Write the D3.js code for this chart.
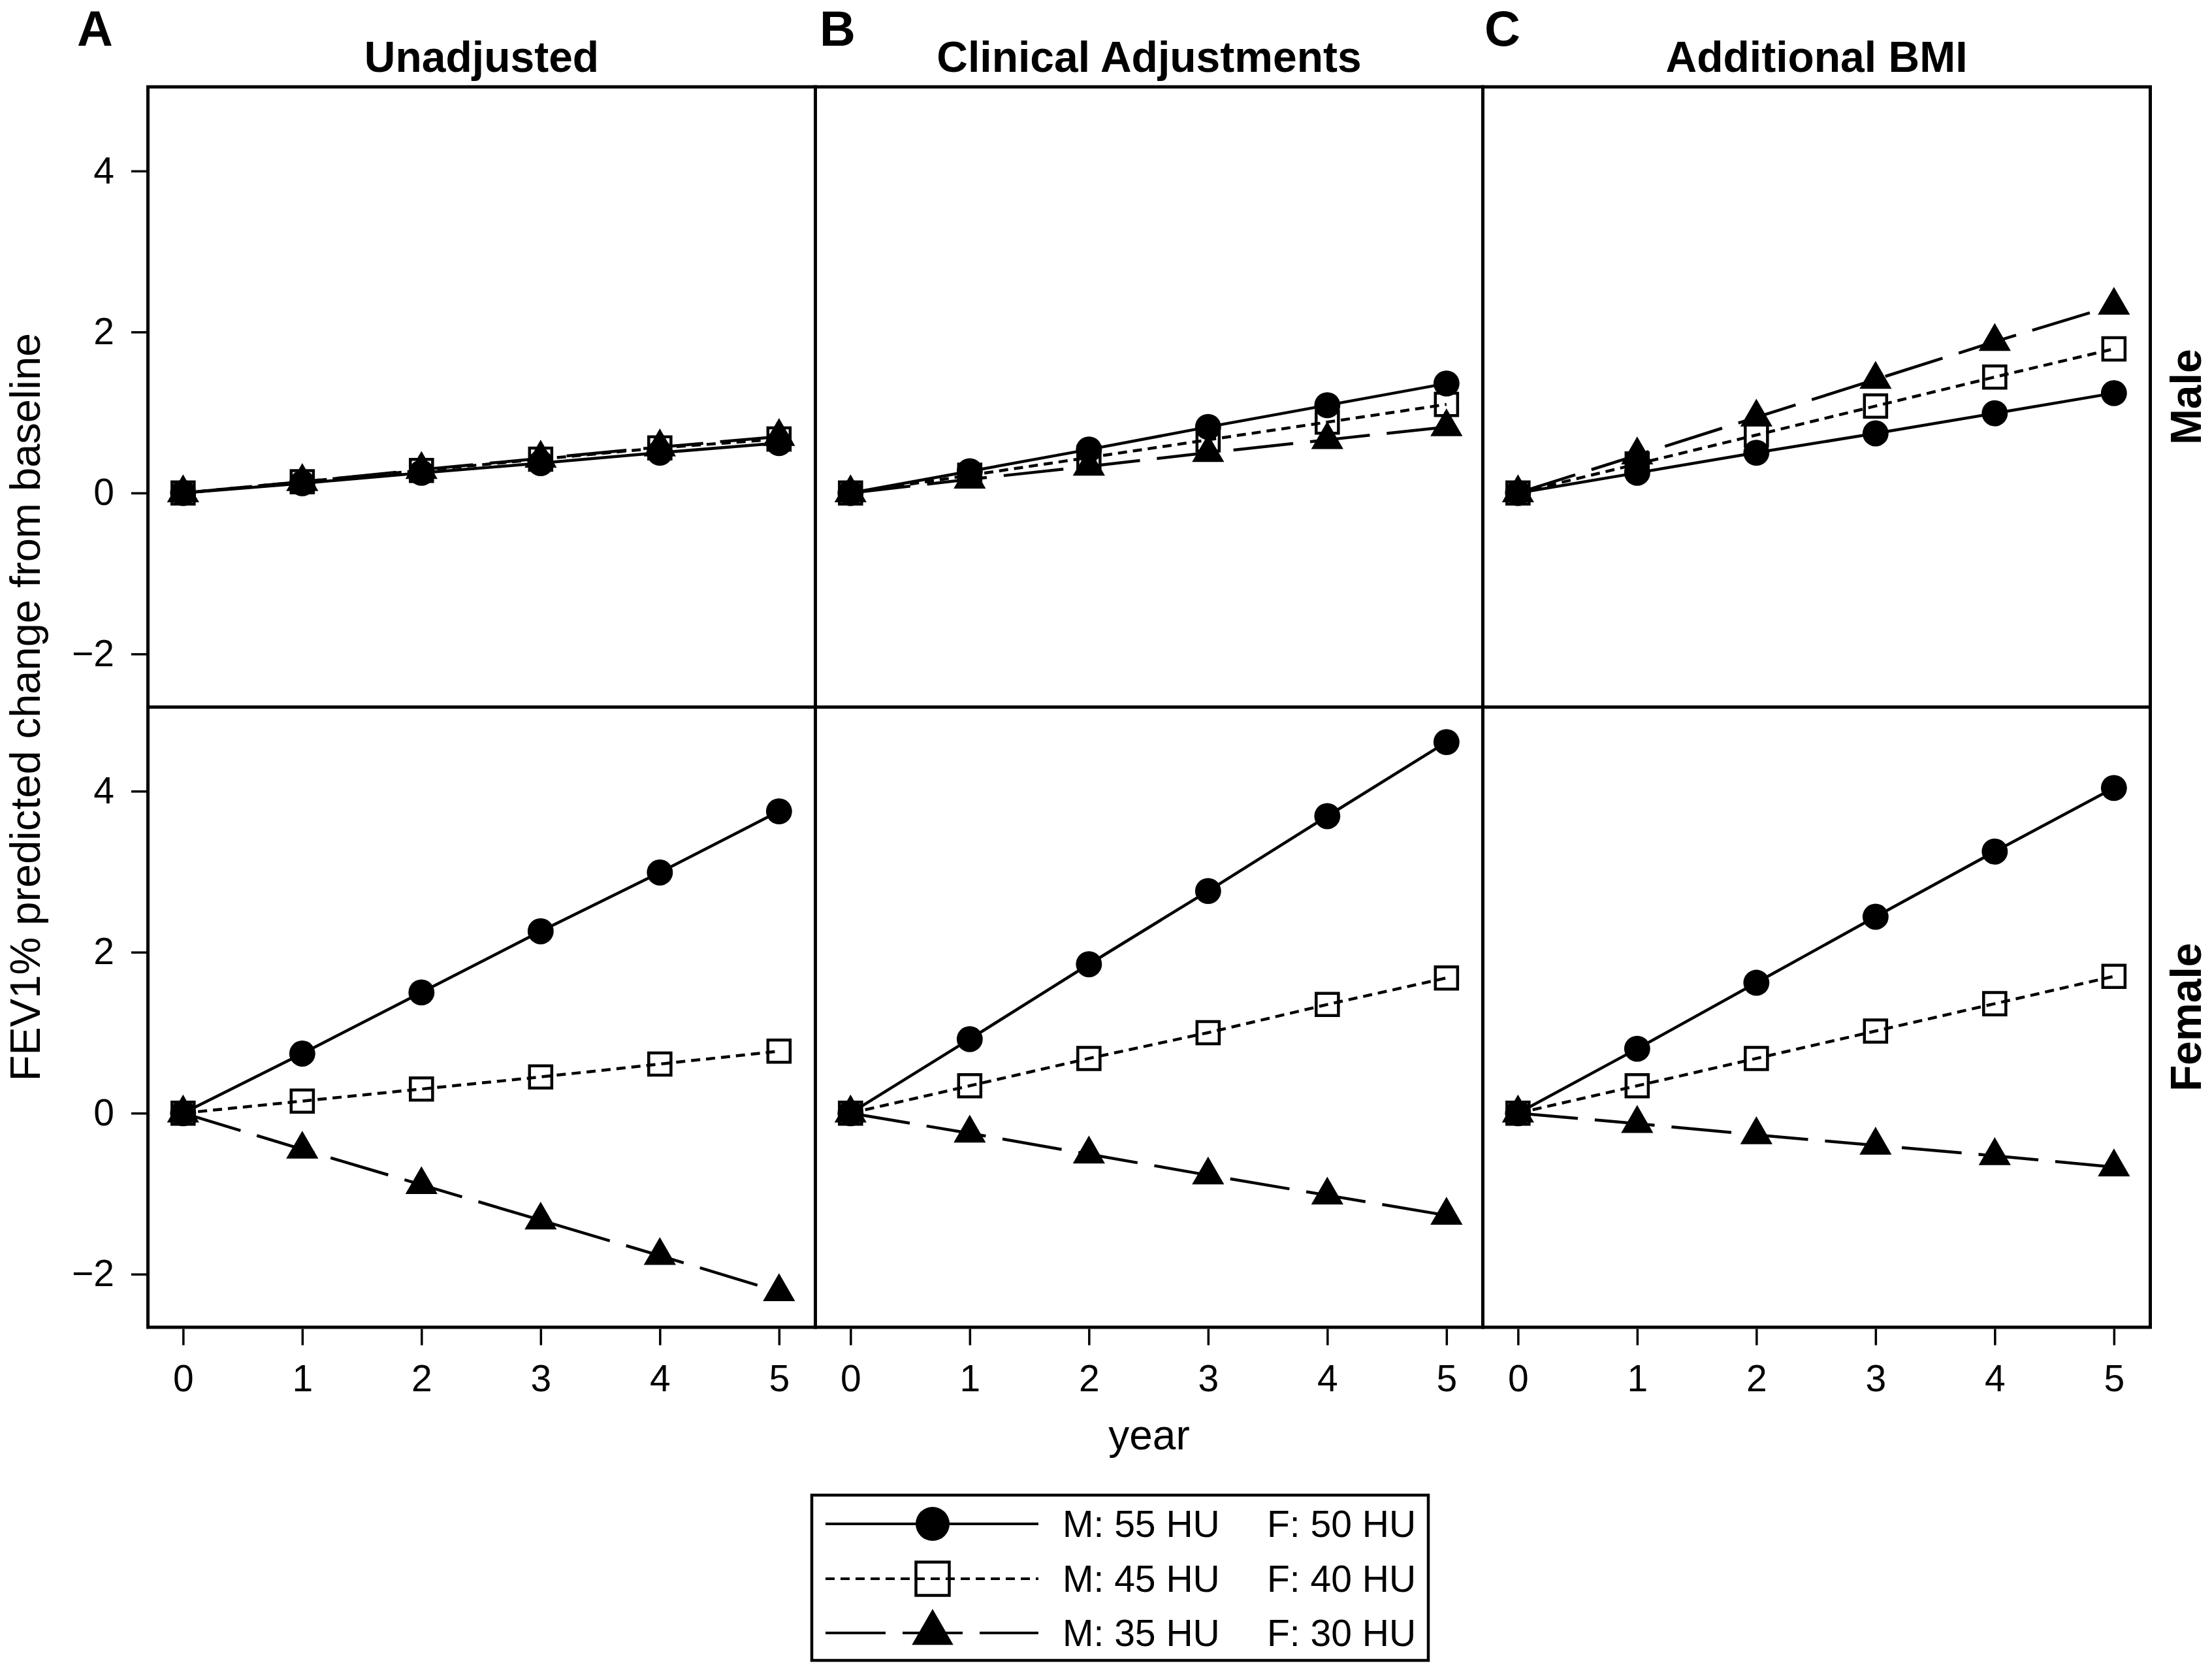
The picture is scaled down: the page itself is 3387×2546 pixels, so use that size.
<!DOCTYPE html>
<html>
<head>
<meta charset="utf-8">
<script src="https://d3js.org/d3.v7.min.js"></script>
<style>
  html, body { margin: 0; padding: 0; background: #fff; }
  svg { display: block; }
  text { font-family: "Liberation Sans", Arial, Helvetica, sans-serif; fill: #000; }
</style>
</head>
<body>
<script>
// ---------------- DATA ----------------
const years = [0, 1, 2, 3, 4, 5];
const panelTitles = ["Unadjusted", "Clinical Adjustments", "Additional BMI"];
const panelLetters = ["A", "B", "C"];
const sexLabels = ["Male", "Female"];
const yTicks = [-2, 0, 2, 4];
const xTicks = [0, 1, 2, 3, 4, 5];
const legendMale = ["M: 55 HU", "M: 45 HU", "M: 35 HU"];
const legendFemale = ["F: 50 HU", "F: 40 HU", "F: 30 HU"];

// each: [circle (solid), square (short dash), triangle (long dash)]
const unadjustedMale = [
  [0, 0.12, 0.25, 0.37, 0.50, 0.62],
  [0, 0.14, 0.28, 0.42, 0.56, 0.67],
  [0, 0.14, 0.29, 0.43, 0.57, 0.70]
];
const unadjustedFemale = [
  [0, 0.74, 1.50, 2.26, 2.99, 3.75],
  [0, 0.15, 0.30, 0.45, 0.61, 0.77],
  [0, -0.45, -0.89, -1.33, -1.77, -2.22]
];
const clinicalMale = [
  [0, 0.27, 0.54, 0.82, 1.09, 1.36],
  [0, 0.22, 0.44, 0.66, 0.88, 1.10],
  [0, 0.17, 0.33, 0.50, 0.66, 0.82]
];
const clinicalFemale = [
  [0, 0.92, 1.85, 2.76, 3.69, 4.61],
  [0, 0.34, 0.68, 1.00, 1.35, 1.68],
  [0, -0.25, -0.51, -0.77, -1.02, -1.27]
];
const bmiMale = [
  [0, 0.25, 0.50, 0.74, 0.99, 1.24],
  [0, 0.36, 0.72, 1.08, 1.44, 1.79],
  [0, 0.47, 0.94, 1.41, 1.88, 2.33]
];
const bmiFemale = [
  [0, 0.80, 1.62, 2.44, 3.25, 4.04],
  [0, 0.34, 0.68, 1.02, 1.36, 1.70],
  [0, -0.13, -0.27, -0.40, -0.53, -0.67]
];

// rows x columns
const panelData = [
  [unadjustedMale, clinicalMale, bmiMale],
  [unadjustedFemale, clinicalFemale, bmiFemale]
];

// ---------------- LAYOUT ----------------
const W = 3387, H = 2546;
const left = 226.5, panelW = 1022;
const top0 = 133, panelH = 949.5;
const FONT_TICK = 57, FONT_TITLE = 66, FONT_LETTER = 76, FONT_AXIS = 65;

const styles = [
  { dash: null, symbol: d3.symbolCircle, fill: "#000", size: 1250, lsize: 2124 },
  { dash: "14,9", symbol: d3.symbolSquare, fill: "none", size: 1160, lsize: 2601 },
  { dash: "92,26", symbol: d3.symbolTriangle, fill: "#000", size: 1050, lsize: 1746 }
];

const svg = d3.select("body").append("svg")
  .attr("width", W).attr("height", H)
  .attr("viewBox", `0 0 ${W} ${H}`);

svg.append("rect").attr("width", W).attr("height", H).attr("fill", "#fff");

const x = d3.scaleLinear().domain([-0.295, 5.305]).range([0, panelW]);
const y = d3.scaleLinear().domain([-2.66, 5.045]).range([panelH, 0]);

const line = d3.line()
  .x((d, i) => x(years[i]))
  .y(d => y(d));

for (let r = 0; r < 2; r++) {
  for (let c = 0; c < 3; c++) {
    const g = svg.append("g")
      .attr("transform", `translate(${left + c * panelW},${top0 + r * panelH})`);
    const groups = panelData[r][c];
    groups.forEach((vals, si) => {
      const st = styles[si];
      g.append("path")
        .attr("d", line(vals))
        .attr("fill", "none")
        .attr("stroke", "#000")
        .attr("stroke-width", 4.5)
        .attr("stroke-dasharray", st.dash);
      g.selectAll(null).data(vals).enter().append("path")
        .attr("transform", (d, i) => `translate(${x(years[i])},${y(d)})`)
        .attr("d", d3.symbol().type(st.symbol).size(st.size))
        .attr("fill", st.fill)
        .attr("stroke", "#000")
        .attr("stroke-width", si === 1 ? 4.5 : 0);
    });
    // panel border
    g.append("rect")
      .attr("x", 0).attr("y", 0)
      .attr("width", panelW).attr("height", panelH)
      .attr("fill", "none").attr("stroke", "#000").attr("stroke-width", 5);

    // y axis on first column
    if (c === 0) {
      const ay = g.append("g").attr("transform", "translate(-2.5,0)")
        .call(d3.axisLeft(y).tickValues(yTicks).tickSize(23).tickSizeOuter(0).tickPadding(26)
          .tickFormat(d => d < 0 ? "\u2212" + Math.abs(d) : String(d)));
      ay.select(".domain").remove();
      ay.selectAll(".tick line").attr("stroke", "#000").attr("stroke-width", 3.5);
      ay.selectAll(".tick text")
        .attr("font-size", FONT_TICK)
        .attr("font-family", "Liberation Sans, Arial, sans-serif")
        .attr("fill", "#000");
    }
    // x axis on bottom row
    if (r === 1) {
      const ax = g.append("g").attr("transform", `translate(0,${panelH + 2.5})`)
        .call(d3.axisBottom(x).tickValues(xTicks).tickSize(25).tickSizeOuter(0).tickPadding(30)
          .tickFormat(d3.format("d")));
      ax.select(".domain").remove();
      ax.selectAll(".tick line").attr("stroke", "#000").attr("stroke-width", 3.5);
      ax.selectAll(".tick text")
        .attr("font-size", FONT_TICK)
        .attr("font-family", "Liberation Sans, Arial, sans-serif")
        .attr("fill", "#000");
    }
  }
}

// column titles and letters
const letterX = [118, 1255, 2273];
panelTitles.forEach((t, c) => {
  svg.append("text")
    .attr("x", left + c * panelW + panelW / 2)
    .attr("y", 110)
    .attr("text-anchor", "middle")
    .attr("font-weight", "bold")
    .attr("font-size", FONT_TITLE)
    .text(t);
  svg.append("text")
    .attr("x", letterX[c])
    .attr("y", 70)
    .attr("font-weight", "bold")
    .attr("font-size", FONT_LETTER)
    .text(panelLetters[c]);
});

// row strip labels (right side)
sexLabels.forEach((t, r) => {
  const cy = top0 + r * panelH + panelH / 2;
  svg.append("text")
    .attr("transform", `translate(3370,${cy}) rotate(-90)`)
    .attr("text-anchor", "middle")
    .attr("font-weight", "bold")
    .attr("font-size", FONT_TITLE)
    .text(t);
});

// axis titles
svg.append("text")
  .attr("transform", `translate(61,${top0 + panelH}) rotate(-90)`)
  .attr("text-anchor", "middle")
  .attr("font-size", FONT_AXIS)
  .text("FEV1% predicted change from baseline");

svg.append("text")
  .attr("x", left + 1.5 * panelW)
  .attr("y", 2219)
  .attr("text-anchor", "middle")
  .attr("font-size", 64)
  .text("year");

// legend
const lg = svg.append("g");
lg.append("rect")
  .attr("x", 1243).attr("y", 2289).attr("width", 944).attr("height", 253)
  .attr("fill", "#fff").attr("stroke", "#000").attr("stroke-width", 4.5);
const rowY = [2333, 2417, 2500];
styles.forEach((st, i) => {
  lg.append("line")
    .attr("x1", 1264).attr("x2", 1590)
    .attr("y1", rowY[i]).attr("y2", rowY[i])
    .attr("stroke", "#000").attr("stroke-width", 4)
    .attr("stroke-dasharray", st.dash);
  lg.append("path")
    .attr("transform", `translate(1428,${rowY[i]})`)
    .attr("d", d3.symbol().type(st.symbol).size(st.lsize))
    .attr("fill", st.fill)
    .attr("stroke", "#000")
    .attr("stroke-width", i === 1 ? 4.5 : 0);
  lg.append("text")
    .attr("x", 1627).attr("y", rowY[i] + 20)
    .attr("font-size", FONT_TICK)
    .text(legendMale[i]);
  lg.append("text")
    .attr("x", 1940).attr("y", rowY[i] + 20)
    .attr("font-size", FONT_TICK)
    .text(legendFemale[i]);
});
</script>
</body>
</html>
